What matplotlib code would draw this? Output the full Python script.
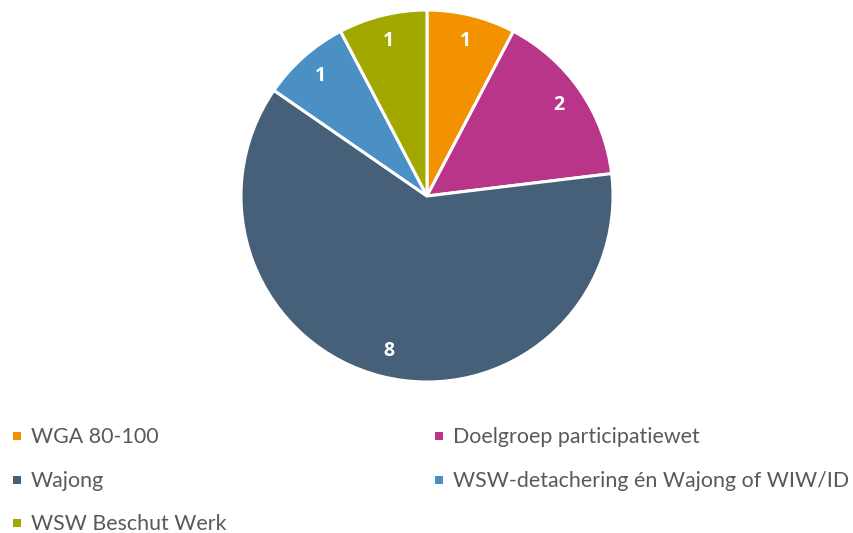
import matplotlib
matplotlib.use("Agg")
import matplotlib.pyplot as plt
from matplotlib.patches import Rectangle

categories = ["WGA 80-100", "Doelgroep participatiewet", "Wajong",
              "WSW-detachering én Wajong of WIW/ID", "WSW Beschut Werk"]
values = [1, 2, 8, 1, 1]
colors = ["#F39200", "#B8358A", "#46607A", "#4A90C4", "#A2A800"]

W, H = 854, 533
fig = plt.figure(figsize=(W / 100, H / 100), dpi=100)
fig.patch.set_facecolor("white")

cx, cy, R = 427, 196, 186
ax = fig.add_axes([(cx - R) / W, 1 - (cy + R) / H, 2 * R / W, 2 * R / H])
wedges, texts = ax.pie(values, colors=colors, startangle=90, counterclock=False,
                       labels=[str(v) for v in values], labeldistance=0.86,
                       wedgeprops=dict(edgecolor="white", linewidth=2.2),
                       textprops=dict(color="white", fontsize=14, fontweight="bold",
                                      family="Open Sans"))
for t in texts:
    t.set_ha("center"); t.set_va("center")
ax.set_xlim(-1, 1); ax.set_ylim(-1, 1)
ax.set_aspect("equal")
ax.axis("off")

# legend
pos = [(17, 436), (439, 436), (17, 480), (439, 480), (17, 523)]
for (x, y), lab, c in zip(pos, categories, colors):
    fig.patches.append(Rectangle(((x - 4) / W, 1 - (y + 4) / H), 8 / W, 8 / H,
                                 transform=fig.transFigure, facecolor=c, edgecolor="none"))
    fig.text((x + 14) / W, 1 - (y + 1) / H, lab, fontsize=15.4, color="#595959",
             family="Lato", ha="left", va="center")

fig.savefig("out.png", dpi=100)
